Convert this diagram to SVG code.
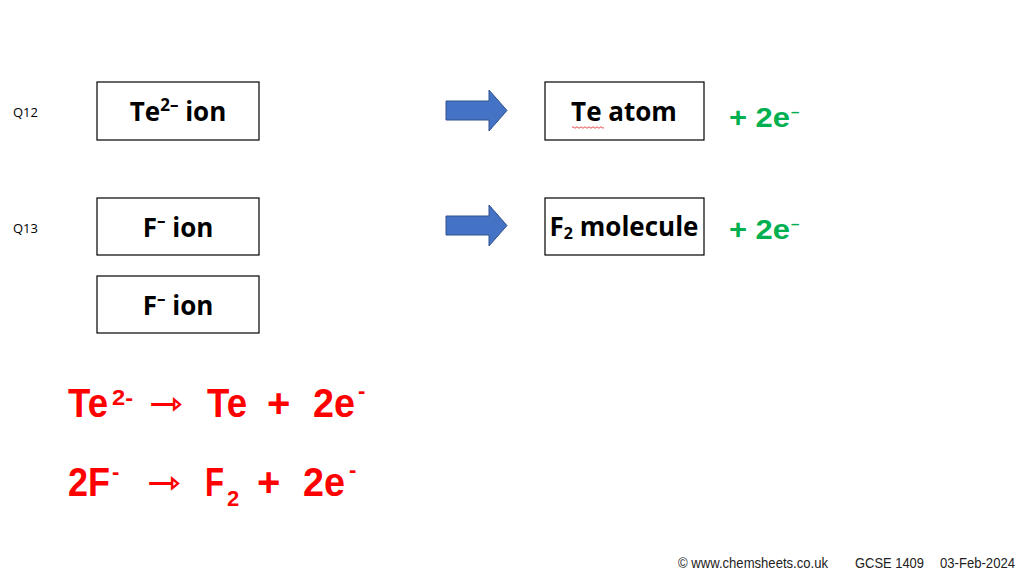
<svg xmlns="http://www.w3.org/2000/svg" width="1024" height="576" viewBox="0 0 1024 576">
<style>
.box{fill:#fff;stroke:#000;stroke-width:1.2}
.bt{font-family:"Open Sans","Liberation Sans",sans-serif;font-weight:bold;font-size:26px;fill:#000}
.sup{font-size:17px}
.q{font-family:"Open Sans","Liberation Sans",sans-serif;font-size:13px;fill:#000}
.g{font-family:"Liberation Sans",Arial,sans-serif;font-weight:bold;font-size:27px;fill:#00B050}
.gs{font-family:"Liberation Sans",Arial,sans-serif;font-weight:bold;font-size:15px;fill:#00B050}
.r{font-family:"Liberation Sans",Arial,sans-serif;font-weight:bold;font-size:40px;fill:#FF0000}
.rs{font-family:"Liberation Sans",Arial,sans-serif;font-weight:bold;font-size:22px;fill:#FF0000}
.ra{font-family:"DejaVu Sans",sans-serif;font-weight:bold;font-size:34px;fill:#FF0000}
.ft{font-family:"Liberation Sans",sans-serif;font-size:14px;fill:#222}
.arrow{fill:#4472C4;stroke:#2F528F;stroke-width:1}
</style>
<rect width="1024" height="576" fill="#fff"/>
<text class="q" x="13" y="117">Q12</text>
<text class="q" x="13" y="233">Q13</text>
<g id="te-ion"><rect class="box" x="97" y="82" width="162" height="58"/><text class="bt" x="178" y="121" text-anchor="middle">Te<tspan class="sup" dy="-10">2–</tspan><tspan dy="10"> ion</tspan></text></g>
<g id="f-ion-1"><rect class="box" x="97" y="198" width="162" height="57"/><text class="bt" x="178" y="237" text-anchor="middle">F<tspan class="sup" dy="-10">–</tspan><tspan dy="10"> ion</tspan></text></g>
<g id="f-ion-2"><rect class="box" x="97" y="276" width="162" height="57"/><text class="bt" x="178" y="315" text-anchor="middle">F<tspan class="sup" dy="-10">–</tspan><tspan dy="10"> ion</tspan></text></g>
<g id="te-atom"><rect class="box" x="545" y="82" width="159" height="58"/><text class="bt" x="624" y="121" text-anchor="middle">Te atom</text><path d="M572 127.5 q1 -1.5 2 0 t2 0 t2 0 t2 0 t2 0 t2 0 t2 0 t2 0 t2 0 t2 0 t2 0 t2 0 t2 0 t2 0 t2 0 t2 0" fill="none" stroke="#E02020" stroke-width="0.8"/></g>
<g id="f2-molecule"><rect class="box" x="545" y="198" width="159" height="57"/><text class="bt" x="624" y="236" text-anchor="middle" font-size="22">F<tspan font-size="16" dy="3">2</tspan><tspan dy="-3"> molecule</tspan></text></g>
<g id="connectors">
<path class="arrow" d="M446 101 H489 V90 L507 110.5 L489 131 V120 H446 Z"/>
<path class="arrow" d="M446 216 H489 V205 L507 225.5 L489 246 V235 H446 Z"/>
</g>
<text class="g" x="729" y="127" textLength="61" lengthAdjust="spacingAndGlyphs">+ 2e</text><text class="gs" x="791" y="117">–</text>
<text class="g" x="729" y="239" textLength="61" lengthAdjust="spacingAndGlyphs">+ 2e</text><text class="gs" x="791" y="229">–</text>
<text class="r" x="68" y="417" textLength="40" lengthAdjust="spacingAndGlyphs">Te</text><text class="rs" x="112" y="405" textLength="21" lengthAdjust="spacingAndGlyphs">2-</text>
<text class="ra" x="149" y="415" textLength="34" lengthAdjust="spacingAndGlyphs">⇾</text>
<text class="r" x="207" y="417" textLength="40" lengthAdjust="spacingAndGlyphs">Te</text>
<text class="r" x="267" y="417">+</text>
<text class="r" x="313" y="417" textLength="42" lengthAdjust="spacingAndGlyphs">2e</text><text class="rs" x="358" y="398">-</text>
<text class="r" x="68" y="496" textLength="42" lengthAdjust="spacingAndGlyphs">2F</text><text class="rs" x="112" y="479">-</text>
<text class="ra" x="147" y="494" textLength="34" lengthAdjust="spacingAndGlyphs">⇾</text>
<text class="r" x="205" y="496" textLength="19" lengthAdjust="spacingAndGlyphs">F</text><text class="rs" x="227" y="506">2</text>
<text class="r" x="257" y="496">+</text>
<text class="r" x="303" y="496" textLength="42" lengthAdjust="spacingAndGlyphs">2e</text><text class="rs" x="349" y="477">-</text>
<text class="ft" x="678" y="568" textLength="150" lengthAdjust="spacingAndGlyphs">© www.chemsheets.co.uk</text>
<text class="ft" x="855" y="568" textLength="69" lengthAdjust="spacingAndGlyphs">GCSE 1409</text>
<text class="ft" x="940" y="568" textLength="75" lengthAdjust="spacingAndGlyphs">03-Feb-2024</text>
</svg>
